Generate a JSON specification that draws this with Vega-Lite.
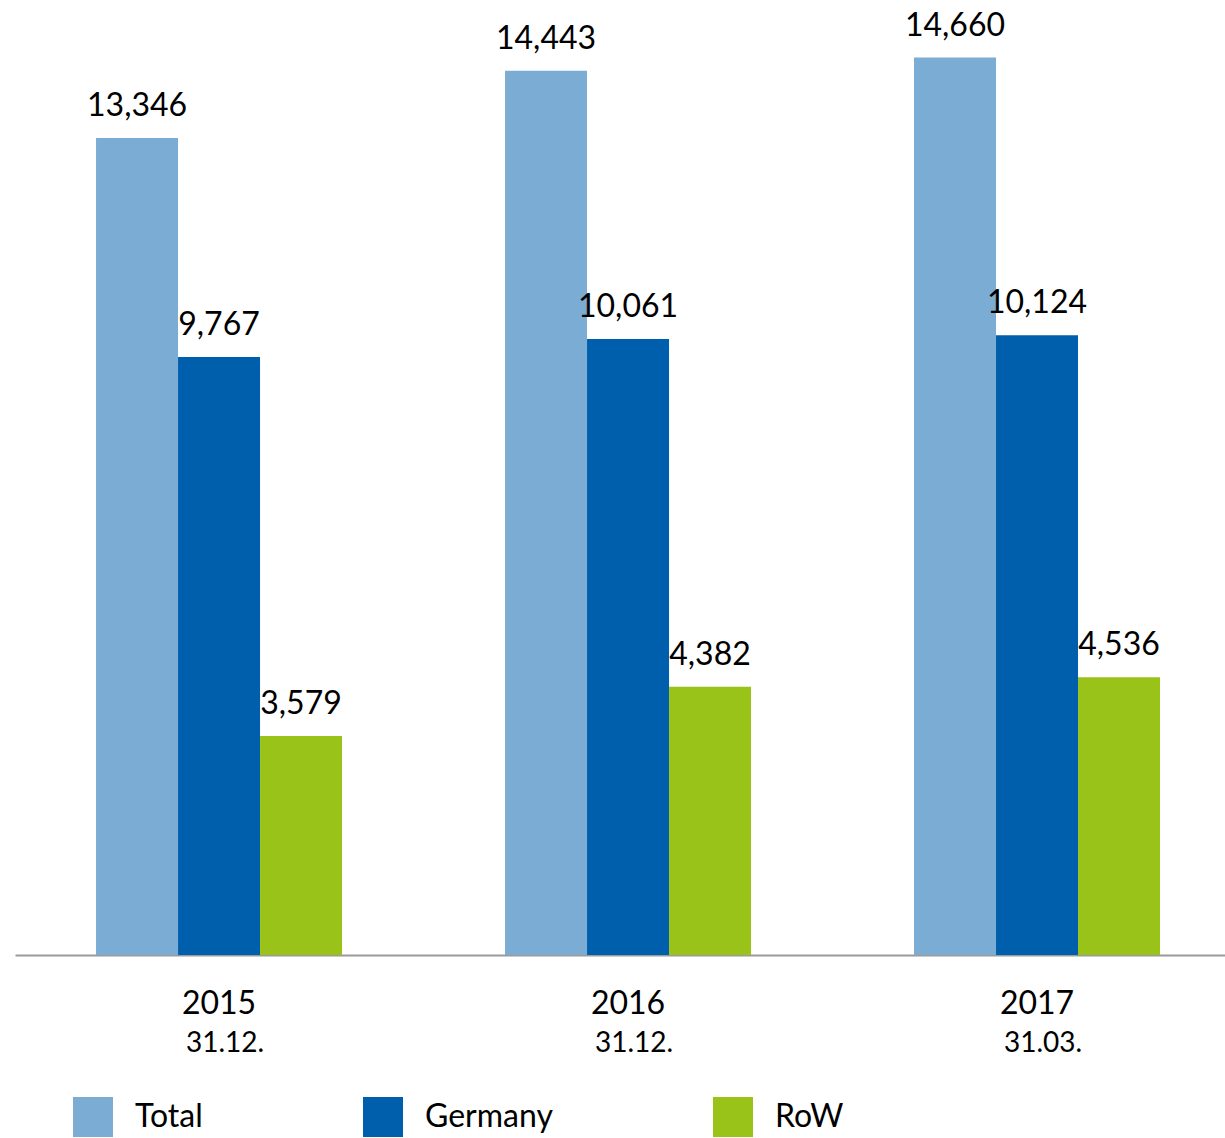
{
  "$schema": "https://vega.github.io/schema/vega-lite/v6.json",
  "width": 1210,
  "height": 955,
  "autosize": {"type": "none"},
  "padding": {"left": 15, "top": 0, "right": 0, "bottom": 183},
  "background": "white",
  "config": {"view": {"stroke": null}, "font": "Lato"},
  "data": {
    "values": [
      {"period": "2015|31.12.", "region": "Total", "value": 13346},
      {"period": "2015|31.12.", "region": "Germany", "value": 9767},
      {"period": "2015|31.12.", "region": "RoW", "value": 3579},
      {"period": "2016|31.12.", "region": "Total", "value": 14443},
      {"period": "2016|31.12.", "region": "Germany", "value": 10061},
      {"period": "2016|31.12.", "region": "RoW", "value": 4382},
      {"period": "2017|31.03.", "region": "Total", "value": 14660},
      {"period": "2017|31.03.", "region": "Germany", "value": 10124},
      {"period": "2017|31.03.", "region": "RoW", "value": 4536}
    ]
  },
  "encoding": {
    "xOffset": {"field": "region", "type": "nominal", "sort": ["Total", "Germany", "RoW"], "scale": {"paddingInner": 0, "paddingOuter": 0}},
    "y": {"field": "value", "type": "quantitative", "scale": {"domain": [0, 15600]}, "axis": null}
  },
  "resolve": {"axis": {"x": "independent"}},
  "layer": [
    {
      "mark": {"type": "bar"},
      "encoding": {
        "x": {
          "field": "period", "type": "nominal", "sort": null,
          "scale": {"paddingInner": 0.3985, "paddingOuter": 0.1785, "align": 0.555},
          "axis": {
            "orient": "bottom", "title": null, "ticks": false,
            "domainColor": "#9a9a9a", "domainWidth": 2,
            "labelExpr": "split(datum.value, '|')[0]",
            "labelAngle": 0, "labelFontSize": 32, "labelColor": "#000000",
            "labelPadding": 33
          }
        },
        "color": {
          "field": "region", "type": "nominal",
          "scale": {"domain": ["Total", "Germany", "RoW"], "range": ["#7BACD4", "#005FAD", "#9AC31A"]},
          "legend": {
            "orient": "none", "legendX": 58, "legendY": 1097, "direction": "horizontal",
            "title": null, "symbolType": "square", "symbolSize": 1600, "symbolStrokeWidth": 0,
            "labelFontSize": 32, "labelColor": "#000000", "labelOffset": 22, "columnPadding": 160,
            "labelLimit": 0
          }
        }
      }
    },
    {
      "mark": {"type": "text", "baseline": "alphabetic", "dy": -22, "fontSize": 32, "color": "#000000"},
      "encoding": {
        "x": {
          "field": "period", "type": "nominal", "sort": null,
          "axis": {
            "orient": "bottom", "title": null, "ticks": false, "domain": false,
            "labelExpr": "split(datum.value, '|')[1]",
            "labelAngle": 0, "labelFontSize": 28, "labelColor": "#000000",
            "labelPadding": 74, "labelOffset": 6
          }
        },
        "text": {"field": "value", "type": "quantitative", "format": ","}
      }
    }
  ]
}
